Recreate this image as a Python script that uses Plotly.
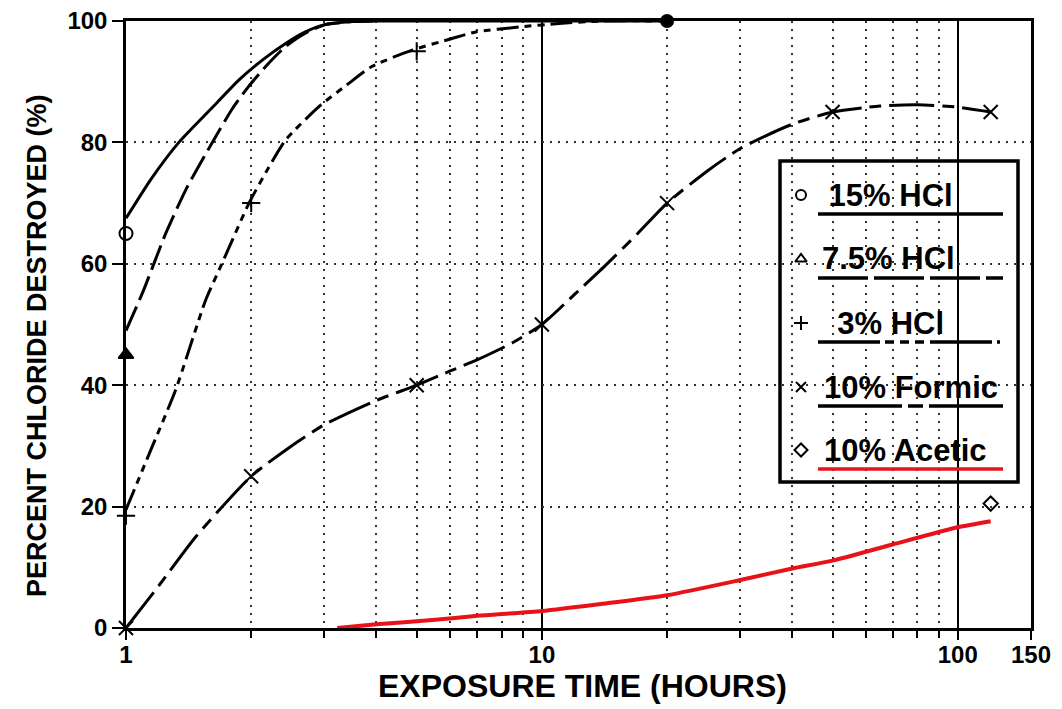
import math
import plotly.graph_objects as go

# ---------------- data ----------------
hcl15_curve_x = [1, 1.15, 1.34, 1.6, 1.87, 2.15, 2.42, 2.7, 3.0, 3.5, 4, 6, 10, 20]
hcl15_curve_y = [67.5, 74, 80, 85.5, 90.3, 93.8, 96.3, 98.2, 99.4, 99.9, 100, 100, 100, 100]
hcl15_pts_x = [1]
hcl15_pts_y = [65]

hcl75_curve_x = [1, 1.1, 1.246, 1.4, 1.61, 1.8, 1.97, 2.2, 2.42, 2.7, 3.02, 3.5, 4]
hcl75_curve_y = [49, 55.5, 65, 72.5, 79.9, 85.5, 89.2, 93, 95.8, 98, 99.4, 99.9, 100]
hcl75_pts_x = [1]
hcl75_pts_y = [45]

hcl3_curve_x = [1, 1.15, 1.316, 1.554, 1.7, 1.976, 2.2, 2.42, 2.91, 3.4, 3.9, 4.88, 6, 6.93, 8.8, 11, 14, 20]
hcl3_curve_y = [19.5, 29.5, 39.2, 54, 60, 70, 75.8, 80.4, 85.9, 89.5, 92.5, 95.2, 97, 98.2, 99.0, 99.6, 100, 100]
hcl3_pts_x = [1, 2, 5]
hcl3_pts_y = [18.5, 70, 95]

formic_curve_x = [1, 1.2, 1.47, 2, 2.5, 3, 4, 5, 6, 7, 8.5, 10, 12, 14.2, 17, 20, 25, 30, 40, 50, 65, 80, 100, 120]
formic_curve_y = [0, 7, 15, 25, 30, 33.5, 37.5, 40, 42.3, 44.2, 47, 50, 55, 59.7, 65, 70, 75.3, 79, 83, 85, 86, 86.2, 85.8, 85]
formic_pts_x = [1, 2, 5, 10, 20, 50, 120]
formic_pts_y = [0, 25, 40, 50, 70, 85, 85]

acetic_curve_x = [3.22, 4, 5.45, 7, 10, 14, 20, 30, 40, 50, 70, 100, 120]
acetic_curve_y = [0, 0.6, 1.3, 2, 2.8, 4, 5.4, 7.9, 9.8, 11.1, 13.8, 16.6, 17.6]
acetic_pts_x = [120]
acetic_pts_y = [20.5]

end_pts_x = [20]
end_pts_y = [100]

x_tick_vals = [1, 10, 100, 150]
x_tick_text = ["1", "10", "100", "150"]
x_minor_vals = [2, 3, 4, 5, 6, 7, 8, 9, 20, 30, 40, 50, 60, 70, 80, 90]
y_tick_vals = [0, 20, 40, 60, 80, 100]

legend_labels = [" 15% HCl", "7.5% HCl", "  3% HCl", "10% Formic", "10% Acetic"]
legend_symbols = ["circle-open", "triangle-up-open", "cross-thin-open", "x-thin-open", "diamond-open"]
legend_dashes = ["solid", "50px,6px", "62px,5px,9px,6px,9px,6px,9px,6px,62px,5px,3px,200px",
                 "84px,6px,15px,6px,200px", "solid"]
legend_colors = ["black", "black", "black", "black", "#e8121a"]

# ---------------- geometry (page pixels; the page body adds an 8px offset) ----------------
OFF = 8
PLOT_L, PLOT_R, PLOT_T, PLOT_B = 126, 1031, 21, 628   # plot frame in page pixels
W, H = 1062 - OFF, 709 - OFF
L, T = PLOT_L - OFF, PLOT_T - OFF
R, B = W - (PLOT_R - OFF), H - (PLOT_B - OFF)
PW, PH = PLOT_R - PLOT_L, PLOT_B - PLOT_T


def px(xpix):
    return (xpix - PLOT_L) / PW


def py(ypix):
    return (PLOT_B - ypix) / PH


BLACK = "black"
RED = "#e8121a"
FONT = "Liberation Sans"

fig = go.Figure()


def curve(xs, ys, dash, color=BLACK, width=3):
    fig.add_trace(go.Scatter(x=xs, y=ys, mode="lines",
                             line=dict(color=color, width=width, dash=dash,
                                       shape="spline", smoothing=0.6),
                             hoverinfo="skip"))


def pts(xs, ys, symbol, size, lw=2):
    fig.add_trace(go.Scatter(x=xs, y=ys, mode="markers", cliponaxis=False,
                             marker=dict(symbol=symbol, size=size,
                                         color=BLACK,
                                         line=dict(color=BLACK, width=lw)),
                             hoverinfo="skip"))


curve(acetic_curve_x, acetic_curve_y, "solid", RED, 4)
curve(formic_curve_x, formic_curve_y, "45px,8px,12px,8px")
curve(hcl3_curve_x, hcl3_curve_y, "22px,6px,7px,6px,7px,6px")
curve(hcl75_curve_x, hcl75_curve_y, "26px,7px")
curve(hcl15_curve_x, hcl15_curve_y, "solid")

pts(hcl15_pts_x, hcl15_pts_y, "circle-open", 13)
pts(hcl75_pts_x, hcl75_pts_y, "triangle-up", 13)
pts(hcl3_pts_x, hcl3_pts_y, "cross-thin-open", 13)
pts(formic_pts_x, formic_pts_y, "x-thin-open", 14)
pts(acetic_pts_x, acetic_pts_y, "diamond-open", 11)
pts(end_pts_x, end_pts_y, "circle", 12)

# ---------------- legend (manual, boxed, underline samples) ----------------
row_y = [195, 259, 323, 387, 450]
text_x = [818, 820, 818, 822, 822]
shapes = [dict(type="rect", xref="paper", yref="paper",
               x0=px(780), x1=px(1018), y0=py(482), y1=py(161),
               line=dict(color=BLACK, width=3.5), fillcolor="white", layer="between")]
annotations = []
for i, lab in enumerate(legend_labels):
    shapes.append(dict(type="line", xref="paper", yref="paper",
                       x0=px(818), x1=px(1003), y0=py(row_y[i] + 19), y1=py(row_y[i] + 19),
                       line=dict(color=legend_colors[i], width=3.5, dash=legend_dashes[i]),
                       layer="above"))
    annotations.append(dict(xref="paper", yref="paper", x=px(text_x[i]), y=py(row_y[i]),
                            xanchor="left", yanchor="middle", showarrow=False,
                            text=lab, font=dict(family=FONT, size=31, color=BLACK, weight="bold")))

fig.add_trace(go.Scatter(x=[px(801)] * 5, y=[py(v) for v in row_y], xaxis="x2", yaxis="y2",
                         mode="markers", cliponaxis=False,
                         marker=dict(symbol=legend_symbols, size=10, color=BLACK,
                                     line=dict(color=BLACK, width=2)),
                         hoverinfo="skip"))

# axis titles
annotations.append(dict(xref="paper", yref="paper", x=px(582), y=py(686),
                        xanchor="center", yanchor="middle", showarrow=False,
                        text="EXPOSURE TIME (HOURS)",
                        font=dict(family=FONT, size=32, color=BLACK, weight="bold")))
annotations.append(dict(xref="paper", yref="paper", x=px(37), y=py(346),
                        xanchor="center", yanchor="middle", showarrow=False, textangle=-90,
                        text="PERCENT CHLORIDE DESTROYED (%)",
                        font=dict(family=FONT, size=27, color=BLACK, weight="bold")))

DOT = "2px,6px"
fig.update_layout(
    width=W, height=H,
    margin=dict(l=L, r=R, t=T, b=B, pad=0, autoexpand=False),
    paper_bgcolor="white", plot_bgcolor="white",
    showlegend=False,
    shapes=shapes, annotations=annotations,
    xaxis=dict(type="log", range=[0, math.log10(150)], automargin=False,
               tickmode="array", tickvals=x_tick_vals, ticktext=x_tick_text,
               ticks="outside", ticklen=9, tickwidth=2, tickcolor=BLACK,
               ticklabelstandoff=-6, ticklabeloverflow="allow",
               showline=True, linewidth=2.5, linecolor=BLACK, mirror=True,
               showgrid=True, gridcolor=BLACK, gridwidth=2,
               tickfont=dict(family=FONT, size=24, color=BLACK, weight="bold"),
               minor=dict(tickmode="array", tickvals=x_minor_vals, ticks="outside",
                          ticklen=7, tickwidth=1.5, tickcolor=BLACK,
                          showgrid=True, gridcolor="#333", gridwidth=1.6, griddash=DOT)),
    yaxis=dict(range=[0, 100], tickmode="array", tickvals=y_tick_vals, automargin=False,
               ticks="outside", ticklen=11, tickwidth=2, tickcolor=BLACK,
               ticklabeloverflow="allow",
               showline=True, linewidth=2.5, linecolor=BLACK, mirror=True,
               showgrid=True, gridcolor="#333", gridwidth=1.6, griddash=DOT,
               zeroline=False,
               tickfont=dict(family=FONT, size=24, color=BLACK, weight="bold")),
    xaxis2=dict(overlaying="x", range=[0, 1], visible=False),
    yaxis2=dict(overlaying="y", range=[0, 1], visible=False),
)

fig.write_html("out.html")
